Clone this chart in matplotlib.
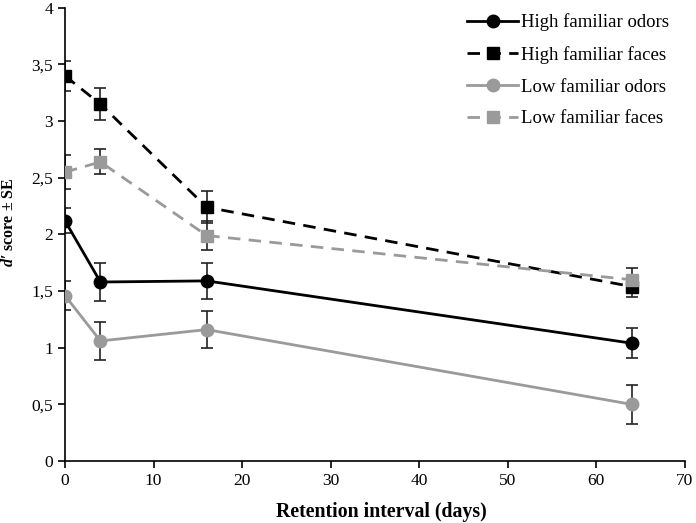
import matplotlib
matplotlib.use("Agg")
import matplotlib.pyplot as plt

plt.rcParams["font.family"] = ["Liberation Serif", "DejaVu Serif"]
plt.rcParams["mathtext.fontset"] = "custom"
plt.rcParams["mathtext.rm"] = "Liberation Serif"
plt.rcParams["mathtext.bfit"] = "Liberation Serif:italic:bold"

days = [0, 4, 16, 64]

high_odors = [2.12, 1.58, 1.59, 1.04]
high_odors_se = [0.11, 0.17, 0.16, 0.13]
high_faces = [3.40, 3.15, 2.24, 1.54]
high_faces_se = [0.13, 0.14, 0.14, 0.09]
low_odors = [1.46, 1.06, 1.16, 0.50]
low_odors_se = [0.13, 0.17, 0.16, 0.17]
low_faces = [2.55, 2.64, 1.99, 1.60]
low_faces_se = [0.15, 0.11, 0.13, 0.10]

x_ticks = [0, 10, 20, 30, 40, 50, 60, 70]
y_ticks = [0, 0.5, 1, 1.5, 2, 2.5, 3, 3.5, 4]
y_tick_labels = ["0", "0,5", "1", "1,5", "2", "2,5", "3", "3,5", "4"]

grey = "#9a9a9a"
dash = (0, (4.5, 3))

fig = plt.figure(figsize=(6.96, 5.23), dpi=100)
ax = fig.add_axes([0.0934, 0.1185, 0.8906, 0.8665])

series = [
    (high_odors, high_odors_se, "black", "-", "o", "High familiar odors"),
    (high_faces, high_faces_se, "black", dash, "s", "High familiar faces"),
    (low_odors, low_odors_se, grey, "-", "o", "Low familiar odors"),
    (low_faces, low_faces_se, grey, dash, "s", "Low familiar faces"),
]
for vals, se, color, ls, mk, label in series:
    ax.errorbar(days, vals, yerr=se, fmt="none", ecolor="#222222",
                elinewidth=1.2, capsize=4, capthick=1.2, zorder=2)
    ax.plot(days, vals, color=color, linestyle=ls, linewidth=2,
            marker=mk, markersize=9 if mk == "o" else 8, label=label, zorder=3)

ax.set_xlim(0, 70)
ax.set_ylim(0, 4)
ax.set_xticks(x_ticks)
ax.set_yticks(y_ticks)
ax.set_yticklabels(y_tick_labels)
ax.tick_params(labelsize=12.5, length=5, width=1.2, direction="out")
for side in ["top", "right"]:
    ax.spines[side].set_visible(False)
for side in ["left", "bottom"]:
    ax.spines[side].set_linewidth(1.2)

ax.set_xlabel("Retention interval (days)", fontsize=14.3, fontweight="bold")
ax.xaxis.set_label_coords(0.51, -0.091)
ax.set_ylabel(r"$\mathbfit{d}$′ score ± SE", fontsize=11.5, fontweight="bold")
ax.yaxis.set_label_coords(-0.077, 0.527)

ax.legend(loc="upper right", frameon=False, fontsize=13.5, handlelength=2.75,
          handletextpad=0.15, labelspacing=0.78, borderaxespad=0.0,
          bbox_to_anchor=(0.987, 1.004))

fig.savefig("out.png", dpi=100)
